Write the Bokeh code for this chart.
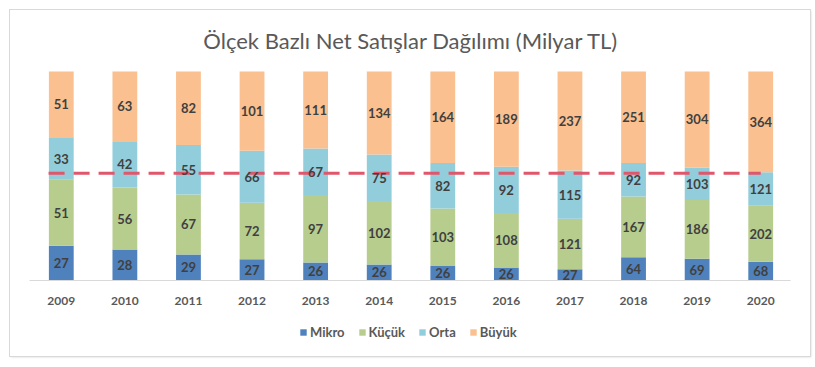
from bokeh.plotting import figure
from bokeh.models import ColumnDataSource, LabelSet, Label, Legend, LegendItem, Range1d
from bokeh.core.properties import value
from bokeh.embed import file_html
from bokeh.resources import INLINE

years = ["2009", "2010", "2011", "2012", "2013", "2014", "2015", "2016", "2017", "2018", "2019", "2020"]
mikro = [27, 28, 29, 27, 26, 26, 26, 26, 27, 64, 69, 68]
kucuk = [51, 56, 67, 72, 97, 102, 103, 108, 121, 167, 186, 202]
orta = [33, 42, 55, 66, 67, 75, 82, 92, 115, 92, 103, 121]
buyuk = [51, 63, 82, 101, 111, 134, 164, 189, 237, 251, 304, 364]
series_names = ["Mikro", "Küçük", "Orta", "Büyük"]
colors = ["#4F81BD", "#B7CD8E", "#92CDDC", "#FAC090"]
title_text = "Ölçek Bazlı Net Satışlar Dağılımı (Milyar TL)"
ref_level = 0.513

series = [mikro, kucuk, orta, buyuk]
keys = ["mikro", "kucuk", "orta", "buyuk"]
n = len(years)
xs = list(range(n))
totals = [sum(s[i] for s in series) for i in range(n)]
data = {"x": xs}
for k, s in zip(keys, series):
    data[k] = [v / t for v, t in zip(s, totals)]
src = ColumnDataSource(data)

# frame: bars occupy 209 px; space above holds the title, below the year labels and legend
bar_px, top_px, bottom_px = 209, 51, 66
p = figure(width=800, height=346, output_backend="svg", toolbar_location=None,
           x_range=Range1d(-0.5, n - 0.5),
           y_range=Range1d(-bottom_px / bar_px, 1 + top_px / bar_px),
           min_border_left=19, min_border_right=18, min_border_top=10, min_border_bottom=10,
           margin=(10, 0, 0, 10),
           styles={"outline": "1px solid #D9D9D9", "box-shadow": "1px 1px 2px #CFCFCF"})
p.outline_line_color = None
p.xaxis.visible = False
p.yaxis.visible = False
p.xgrid.grid_line_color = None
p.ygrid.grid_line_color = None

p.add_layout(Label(x=(n - 1) / 2, y=1, y_offset=31, text=title_text, text_align="center",
                   text_baseline="middle", text_font="Lato", text_font_size="22px",
                   text_color="#595959"))

rs = p.vbar_stack(keys, x="x", width=0.39, source=src, color=colors, line_color=None)

# category axis line
p.segment(x0=[-0.56], y0=[0], x1=[n - 0.53], y1=[0], line_color="#D9D9D9", line_width=1)

# year labels
ysrc = ColumnDataSource({"x": xs, "y": [0] * n, "t": years})
p.add_layout(LabelSet(x="x", y="y", text="t", source=ysrc, text_align="center", text_baseline="middle",
                      y_offset=-20, text_font=value("Lato"), text_font_style="bold",
                      text_font_size="12px", text_color="#595959"))

# data labels
lbl_x, lbl_y, lbl_t = [], [], []
for i in range(n):
    base = 0.0
    for k, s in zip(keys, series):
        f = data[k][i]
        lbl_x.append(i)
        lbl_y.append(base + f / 2)
        lbl_t.append(str(s[i]))
        base += f
lsrc = ColumnDataSource({"x": lbl_x, "y": lbl_y, "t": lbl_t})
p.add_layout(LabelSet(x="x", y="y", text="t", source=lsrc, text_align="center", text_baseline="middle",
                      text_font=value("Lato"), text_font_style="bold", text_font_size="13px",
                      text_color="#404040"))

# reference dashed line
p.segment(x0=[-0.2], y0=[ref_level], x1=[n - 1], y1=[ref_level], line_color="#E0566B",
          line_width=3, line_dash="16 9")

legend = Legend(items=[LegendItem(label=nm, renderers=[r]) for nm, r in zip(series_names, rs)],
                orientation="horizontal", location=(270, 6), border_line_color=None,
                background_fill_alpha=0,
                label_text_font="Lato", label_text_font_style="bold", label_text_font_size="13px",
                label_text_color="#595959", glyph_width=8, glyph_height=8, spacing=13,
                label_standoff=3, margin=0, padding=0)
p.add_layout(legend, "center")

open("out.html", "w").write(file_html(p, INLINE))
